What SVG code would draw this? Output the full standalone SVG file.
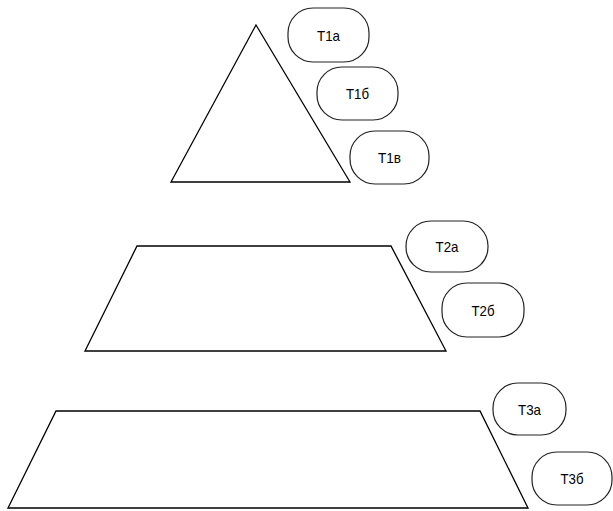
<svg xmlns="http://www.w3.org/2000/svg" width="613" height="511" viewBox="0 0 613 511">
<style>
.shape{fill:none;stroke:#000;stroke-width:1.3;stroke-linejoin:miter}
.box{fill:#fff;stroke:#222;stroke-width:1.2}
.lbl{font-family:"Liberation Sans",Arial,sans-serif;font-size:15px;fill:#000;text-anchor:middle}
</style>
<rect width="613" height="511" fill="#fff"/>
<g id="level1">
<polygon class="shape" points="256,25 350,182 171,182"/>
</g>
<g id="level2">
<polygon class="shape" points="137,246 391,246 446,351 85,351"/>
</g>
<g id="level3">
<polygon class="shape" points="56,411 480,411 528,508 8,508"/>
</g>
<g id="T1a"><rect class="box" x="288" y="8" width="81" height="54" rx="25" ry="25"/><text class="lbl" x="328.5" y="40.5" textLength="23" lengthAdjust="spacingAndGlyphs">Т1а</text></g>
<g id="T1b"><rect class="box" x="317" y="67" width="81" height="53" rx="25" ry="25"/><text class="lbl" x="357.5" y="99" textLength="23" lengthAdjust="spacingAndGlyphs">Т1б</text></g>
<g id="T1v"><rect class="box" x="350" y="131" width="79" height="53" rx="25" ry="25"/><text class="lbl" x="389.5" y="163" textLength="23" lengthAdjust="spacingAndGlyphs">Т1в</text></g>
<g id="T2a"><rect class="box" x="406" y="221" width="82" height="51" rx="25" ry="25"/><text class="lbl" x="447" y="252" textLength="23" lengthAdjust="spacingAndGlyphs">Т2а</text></g>
<g id="T2b"><rect class="box" x="442" y="283" width="82" height="54" rx="25" ry="25"/><text class="lbl" x="483" y="315.5" textLength="23" lengthAdjust="spacingAndGlyphs">Т2б</text></g>
<g id="T3a"><rect class="box" x="493" y="383" width="73" height="52" rx="25" ry="25"/><text class="lbl" x="529.5" y="414.5" textLength="23" lengthAdjust="spacingAndGlyphs">Т3а</text></g>
<g id="T3b"><rect class="box" x="532" y="452" width="80" height="53" rx="25" ry="25"/><text class="lbl" x="572" y="484" textLength="23" lengthAdjust="spacingAndGlyphs">Т3б</text></g>
<g id="connectors"></g>
</svg>
